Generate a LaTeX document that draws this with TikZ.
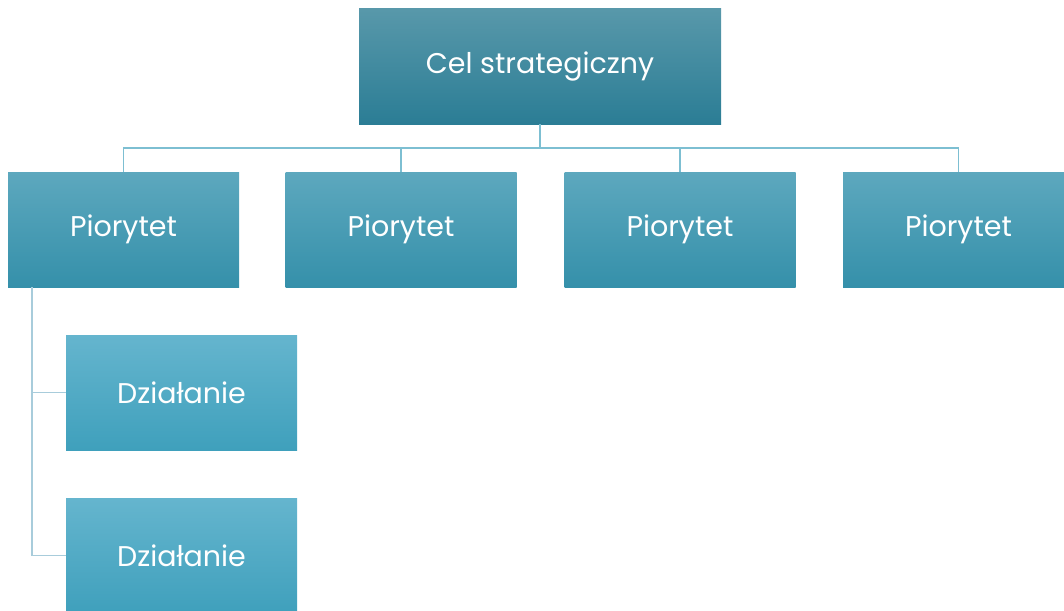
\documentclass[tikz,border=0pt]{standalone}
\usepackage{fontspec}
\setmainfont{Poppins}
\usetikzlibrary{calc}
\definecolor{topA}{HTML}{5898AA}
\definecolor{topB}{HTML}{3389A2}
\definecolor{topC}{HTML}{2B7D95}
\definecolor{prA}{HTML}{5DA8BE}
\definecolor{prB}{HTML}{3D9FBA}
\definecolor{prC}{HTML}{3590AA}
\definecolor{dzA}{HTML}{65B5CE}
\definecolor{dzB}{HTML}{4AB0CE}
\definecolor{dzC}{HTML}{3FA0BC}
\definecolor{connA}{HTML}{7DBFD2}
\definecolor{connB}{HTML}{A8CCDB}
\tikzset{
  box/.style={rectangle, minimum width=231pt, minimum height=115pt, inner sep=0pt,
    text=white, font=\fontsize{28.5}{32}\selectfont},
  goal/.style={box, minimum width=362pt, top color=topA, middle color=topB, bottom color=topC},
  prio/.style={box, top color=prA, middle color=prB, bottom color=prC},
  act/.style={box, top color=dzA, middle color=dzB, bottom color=dzC},
  conn/.style={draw=connA, line width=1.5pt},
  conn2/.style={draw=connB, line width=1.5pt}
}
\begin{document}
\begin{tikzpicture}[x=1pt,y=-1pt]
\useasboundingbox (0,0) rectangle (1064,610);
\clip (0,0) rectangle (1064,610);
\node[goal] (goal) at (540,66.5) {Cel strategiczny};
\node[prio] (p1) at (123.5,229.5) {Piorytet};
\node[prio] (p2) at (401,229.5) {Piorytet};
\node[prio] (p3) at (680,229.5) {Piorytet};
\node[prio] (p4) at (958.5,229.5) {Piorytet};
\node[act] (d1) at (181.5,392.5) {Działanie};
\node[act] (d2) at (181.5,555.5) {Działanie};
\draw[conn] (goal.south) -- ++(0,24) -| (p1.north);
\draw[conn] (goal.south) -- ++(0,24) -| (p2.north);
\draw[conn] (goal.south) -- ++(0,24) -| (p3.north);
\draw[conn] (goal.south) -- ++(0,24) -| (p4.north);
\coordinate (L) at (32,287);
\draw[conn2] (L) |- (d1.west);
\draw[conn2] (L) |- (d2.west);
\end{tikzpicture}
\end{document}
